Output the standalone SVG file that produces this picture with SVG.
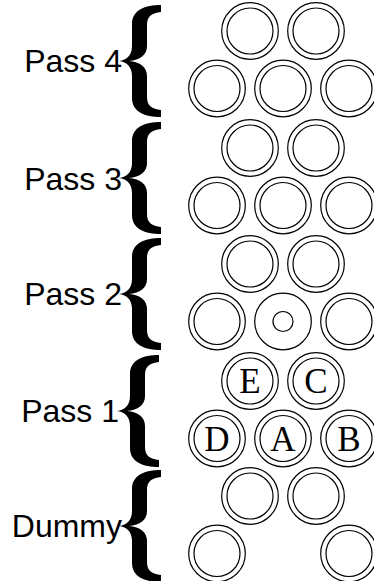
<svg xmlns="http://www.w3.org/2000/svg" width="374" height="581" viewBox="0 0 374 581">
  <style>
    .ring { fill: none; stroke: #000; stroke-width: 1.2; }
    .label { font-family: "Liberation Sans", Arial, sans-serif; font-size: 32px; fill: #000; text-anchor: end; }
    .letter { font-family: "Liberation Serif", "Times New Roman", serif; font-size: 35px; fill: #000; text-anchor: middle; }
    .brace { fill: #000; }
  </style>
  <defs>
    <!-- double ring, centred on the origin -->
    <g id="cell">
      <circle class="ring" r="28.3"/>
      <circle class="ring" r="23"/>
    </g>
    <!-- curly brace, tip at the origin, opening to the right -->
    <path id="brace" class="brace" d="M 42,-56 C 26,-56 13,-51 13,-37 L 13,-15 C 13,-6 8,-1 0,0 C 8,1 13,6 13,15 L 13,37 C 13,51 26,56 42,56 L 42,49 C 33,48 28,45 28,36 L 28,15 C 28,6 21,1 10,0 C 21,-1 28,-6 28,-15 L 28,-36 C 28,-45 33,-48 42,-49 Z"/>
  </defs>

  <rect width="374" height="581" fill="#fff"/>

  <!-- labels and braces -->
  <g id="pass4-label">
    <text class="label" x="122" y="72">Pass 4</text>
    <use href="#brace" x="119" y="61"/>
  </g>
  <g id="pass3-label">
    <text class="label" x="122" y="190">Pass 3</text>
    <use href="#brace" x="119" y="178"/>
  </g>
  <g id="pass2-label">
    <text class="label" x="122" y="305">Pass 2</text>
    <use href="#brace" x="119" y="294"/>
  </g>
  <g id="pass1-label">
    <text class="label" x="119" y="422">Pass 1</text>
    <use href="#brace" x="117" y="411"/>
  </g>
  <g id="dummy-label">
    <text class="label" x="122" y="537">Dummy</text>
    <use href="#brace" x="119" y="526"/>
  </g>

  <!-- Pass 4 -->
  <g id="pass4">
    <use href="#cell" x="250" y="31"/>
    <use href="#cell" x="316" y="31"/>
    <use href="#cell" x="217" y="88.5"/>
    <use href="#cell" x="283" y="88.5"/>
    <use href="#cell" x="349" y="88.5"/>
  </g>

  <!-- Pass 3 -->
  <g id="pass3">
    <use href="#cell" x="250" y="148"/>
    <use href="#cell" x="316" y="148"/>
    <use href="#cell" x="217" y="205.5"/>
    <use href="#cell" x="283" y="205.5"/>
    <use href="#cell" x="349" y="205.5"/>
  </g>

  <!-- Pass 2, centre cell hollow -->
  <g id="pass2">
    <use href="#cell" x="250" y="264"/>
    <use href="#cell" x="316" y="264"/>
    <use href="#cell" x="217" y="321.5"/>
    <g id="pass2-centre">
      <circle class="ring" cx="283" cy="321.5" r="28.3"/>
      <circle class="ring" cx="283" cy="321.5" r="10"/>
    </g>
    <use href="#cell" x="349" y="321.5"/>
  </g>

  <!-- Pass 1, lettered cells -->
  <g id="pass1">
    <g id="cell-E"><use href="#cell" x="250" y="381"/><text class="letter" x="250" y="393">E</text></g>
    <g id="cell-C"><use href="#cell" x="316" y="381"/><text class="letter" x="316" y="393">C</text></g>
    <g id="cell-D"><use href="#cell" x="217" y="438.5"/><text class="letter" x="217" y="450.5">D</text></g>
    <g id="cell-A"><use href="#cell" x="283" y="438.5"/><text class="letter" x="283" y="450.5">A</text></g>
    <g id="cell-B"><use href="#cell" x="349" y="438.5"/><text class="letter" x="349" y="450.5">B</text></g>
  </g>

  <!-- Dummy, bottom centre cell absent -->
  <g id="dummy">
    <use href="#cell" x="250" y="496"/>
    <use href="#cell" x="316" y="496"/>
    <use href="#cell" x="217" y="553.5"/>
    <use href="#cell" x="349" y="553.5"/>
  </g>

  <g id="connectors"/>
</svg>
